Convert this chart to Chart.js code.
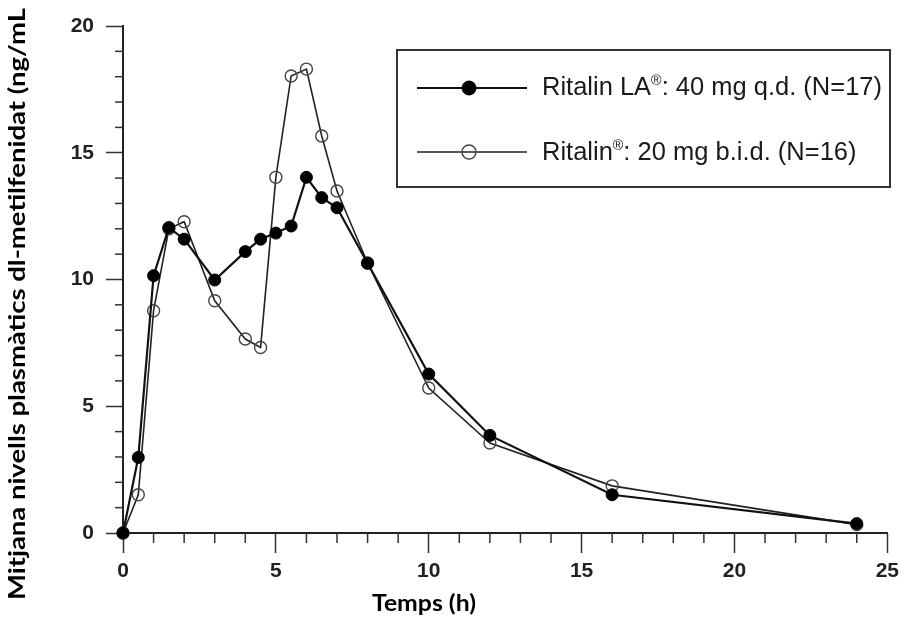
<!DOCTYPE html>
<html>
<head>
<meta charset="utf-8">
<script src="https://cdn.jsdelivr.net/npm/chart.js@4.4.1/dist/chart.umd.min.js"></script>
<style>
  html, body { margin: 0; padding: 0; background: #ffffff; }
  #wrap { width: 905px; height: 624px; }
</style>
</head>
<body>
<div id="wrap"><canvas id="c" width="905" height="624"></canvas></div>
<script>
// ---- data ----
const times = [0, 0.5, 1, 1.5, 2, 3, 4, 4.5, 5, 5.5, 6, 6.5, 7, 8, 10, 12, 16, 24];
const ritalinLA = [0, 2.98, 10.15, 12.05, 11.59, 9.98, 11.10, 11.59, 11.83, 12.11, 14.03, 13.23, 12.83, 10.64, 6.27, 3.85, 1.51, 0.37];
const ritalinIR = [0, 1.51, 8.77, 12.0, 12.28, 9.16, 7.65, 7.32, 14.03, 18.03, 18.30, 15.66, 13.49, 10.65, 5.72, 3.55, 1.86, 0.33];
const seriesLabels = ['Ritalin LA®: 40 mg q.d. (N=17)', 'Ritalin®: 20 mg b.i.d. (N=16)'];
const xTickValues = [0, 5, 10, 15, 20, 25];
const yTickValues = [0, 5, 10, 15, 20];
const xTitle = 'Temps (h)';
const yTitle = 'Mitjana nivells plasmàtics dl-metilfenidat (ng/mL';

const toPoints = (vals) => times.map((t, i) => ({ x: t, y: vals[i] }));

const TICK_FONT = { family: '"Liberation Sans", Arial, sans-serif', size: 21, weight: 'bold' };
const TITLE_FONT = 'bold 22px Lato, "Open Sans", sans-serif';

function drawTextWithSup(ctx, text, x, y, size, scaleX) {
  const parts = text.split('®');
  ctx.save();
  ctx.translate(x, y);
  ctx.scale(scaleX, 1);
  let cx = 0;
  parts.forEach((p, i) => {
    ctx.font = size + 'px "Liberation Sans", Arial, sans-serif';
    ctx.fillText(p, cx, 0);
    cx += ctx.measureText(p).width;
    if (i < parts.length - 1) {
      ctx.font = Math.round(size * 0.55) + 'px "Liberation Sans", Arial, sans-serif';
      ctx.fillText('®', cx, -size * 0.38);
      cx += ctx.measureText('®').width;
    }
  });
  ctx.restore();
}
function measureWithSup(ctx, text, size) {
  const parts = text.split('®');
  let w = 0;
  parts.forEach((p, i) => {
    ctx.font = size + 'px "Liberation Sans", Arial, sans-serif';
    w += ctx.measureText(p).width;
    if (i < parts.length - 1) {
      ctx.font = Math.round(size * 0.55) + 'px "Liberation Sans", Arial, sans-serif';
      w += ctx.measureText('®').width;
    }
  });
  return w;
}

const customDraw = {
  id: 'customDraw',
  afterDraw(chart) {
    const ctx = chart.ctx;
    const xs = chart.scales.x, ys = chart.scales.y;
    const ca = chart.chartArea;
    ctx.save();
    // minor ticks
    ctx.strokeStyle = '#333';
    ctx.lineWidth = 1.5;
    for (let v = xs.min; v <= xs.max; v++) {
      if (v % 5 === 0) continue;
      const px = xs.getPixelForValue(v);
      ctx.beginPath(); ctx.moveTo(px, ca.bottom); ctx.lineTo(px, ca.bottom + 10); ctx.stroke();
    }
    for (let v = ys.min; v <= ys.max; v++) {
      if (v % 5 === 0) continue;
      const py = ys.getPixelForValue(v);
      ctx.beginPath(); ctx.moveTo(ca.left - 8, py); ctx.lineTo(ca.left, py); ctx.stroke();
    }

    // axis titles
    ctx.fillStyle = '#000';
    ctx.font = TITLE_FONT;
    ctx.textAlign = 'center';
    ctx.textBaseline = 'alphabetic';
    let w = ctx.measureText(xTitle).width;
    ctx.save();
    ctx.translate(424, 611);
    ctx.scale(104 / w, 1);
    ctx.fillText(xTitle, 0, 0);
    ctx.restore();

    w = ctx.measureText(yTitle).width;
    ctx.save();
    ctx.translate(25, 304);
    ctx.rotate(-Math.PI / 2);
    ctx.scale(592 / w, 1);
    ctx.fillText(yTitle, 0, 0);
    ctx.restore();

    // legend
    const bx = 397, by = 50, bw = 493, bh = 137;
    ctx.strokeStyle = '#333';
    ctx.lineWidth = 2;
    ctx.strokeRect(bx, by, bw, bh);
    const rowsY = [88, 152];
    const textBase = [94.5, 159.5];
    const size = 25;
    const sx = 340 / measureWithSup(ctx, chart.data.datasets[0].label, size);
    chart.data.datasets.forEach((ds, i) => {
      const y = rowsY[i];
      ctx.strokeStyle = ds.borderColor;
      ctx.lineWidth = ds.borderWidth;
      ctx.beginPath(); ctx.moveTo(417, y); ctx.lineTo(527, y); ctx.stroke();
      ctx.beginPath();
      ctx.arc(469, y, 7, 0, Math.PI * 2);
      ctx.fillStyle = ds.pointBackgroundColor;
      ctx.fill();
      ctx.strokeStyle = ds.pointBorderColor;
      ctx.lineWidth = ds.pointBorderWidth;
      ctx.stroke();
      ctx.fillStyle = '#1a1a1a';
      ctx.textAlign = 'left';
      ctx.textBaseline = 'alphabetic';
      drawTextWithSup(ctx, ds.label, 542, textBase[i], size, sx);
    });
    ctx.restore();
  }
};

new Chart(document.getElementById('c'), {
  type: 'line',
  data: {
    datasets: [
      {
        label: seriesLabels[0],
        data: toPoints(ritalinLA),
        borderColor: '#111',
        borderWidth: 2.2,
        pointRadius: 6,
        pointBackgroundColor: '#000',
        pointBorderColor: '#000',
        pointBorderWidth: 1,
        tension: 0,
        clip: false
      },
      {
        label: seriesLabels[1],
        data: toPoints(ritalinIR),
        borderColor: '#222',
        borderWidth: 1.6,
        pointRadius: 6,
        pointBackgroundColor: 'rgba(255,255,255,0)',
        pointBorderColor: '#444',
        pointBorderWidth: 1.4,
        tension: 0,
        clip: false
      }
    ]
  },
  options: {
    responsive: false,
    animation: false,
    events: [],
    layout: { padding: { left: 0, right: 13, top: 26, bottom: 0 } },
    plugins: { legend: { display: false }, tooltip: { enabled: false }, title: { display: false } },
    scales: {
      x: {
        type: 'linear',
        min: 0, max: 25,
        afterBuildTicks: (s) => { s.ticks = xTickValues.map(v => ({ value: v })); },
        afterFit: (s) => { s.height = 91; },
        grid: { display: true, drawOnChartArea: false, drawTicks: true, tickLength: 20, tickColor: '#333', tickWidth: 1.5 },
        border: { display: true, color: '#222', width: 2 },
        ticks: { font: TICK_FONT, color: '#222', padding: 6, maxRotation: 0 }
      },
      y: {
        type: 'linear',
        min: 0, max: 20,
        afterBuildTicks: (s) => { s.ticks = yTickValues.map(v => ({ value: v })); },
        afterFit: (s) => { s.width = 123; },
        grid: { display: true, drawOnChartArea: false, drawTicks: true, tickLength: 17, tickColor: '#333', tickWidth: 1.5 },
        border: { display: true, color: '#222', width: 2 },
        ticks: { font: TICK_FONT, color: '#222', padding: 12 }
      }
    }
  },
  plugins: [customDraw]
});
</script>
</body>
</html>
